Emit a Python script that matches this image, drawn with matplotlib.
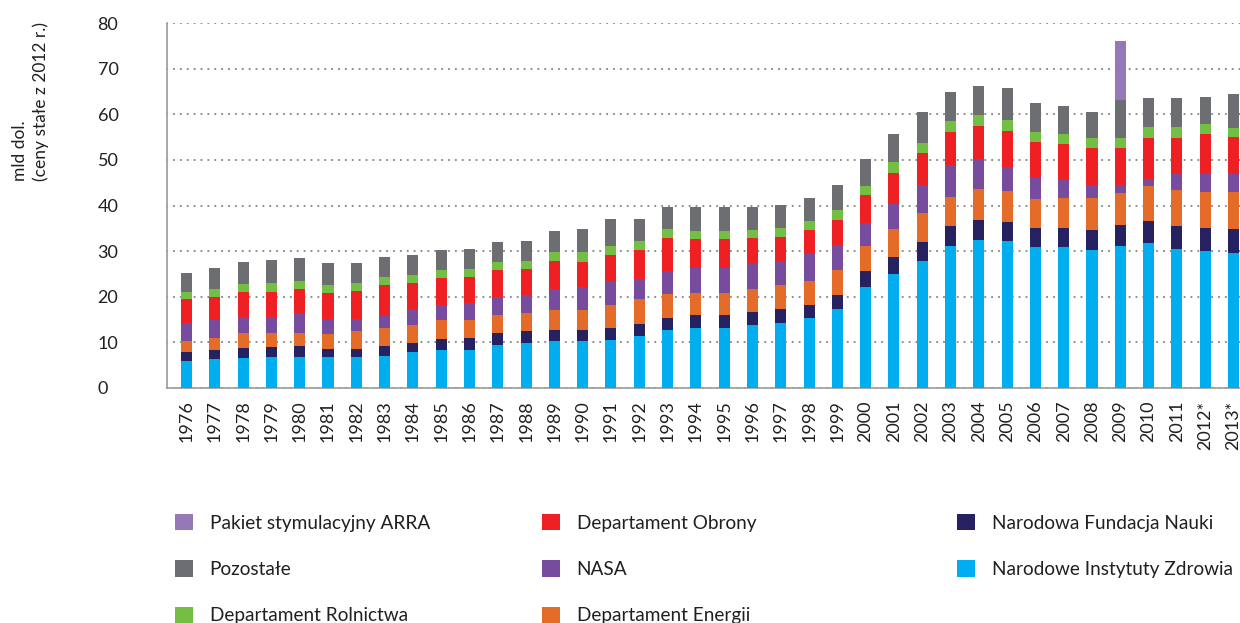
import matplotlib
matplotlib.use("Agg")
import matplotlib.pyplot as plt
from matplotlib.patches import Patch
import numpy as np

plt.rcParams['font.family'] = ['Lato', 'DejaVu Sans']

years = ['1976', '1977', '1978', '1979', '1980', '1981', '1982', '1983', '1984', '1985',
         '1986', '1987', '1988', '1989', '1990', '1991', '1992', '1993', '1994', '1995',
         '1996', '1997', '1998', '1999', '2000', '2001', '2002', '2003', '2004', '2005',
         '2006', '2007', '2008', '2009', '2010', '2011', '2012*', '2013*']

nih = [6.0, 6.3, 6.5, 6.9, 6.9, 6.7, 6.7, 7.1, 7.8, 8.4,
       8.4, 9.5, 9.9, 10.2, 10.2, 10.6, 11.3, 12.8, 13.2, 13.2,
       13.9, 14.3, 15.4, 17.4, 22.2, 25.05, 27.9, 31.2, 32.5, 32.3,
       30.9, 30.9, 30.3, 31.2, 31.8, 30.5, 30.1, 29.6]
nsf = [1.8, 2.0, 2.2, 2.0, 2.2, 1.9, 1.9, 2.0, 2.1, 2.4,
       2.65, 2.6, 2.7, 2.6, 2.6, 2.6, 2.8, 2.6, 2.9, 2.9,
       2.8, 3.1, 2.9, 3.0, 3.5, 3.75, 4.2, 4.4, 4.4, 4.1,
       4.2, 4.2, 4.4, 4.6, 4.8, 5.1, 5.0, 5.3]
energy = [2.6, 2.75, 3.3, 3.1, 3.0, 3.3, 3.8, 4.1, 4.0, 4.2,
          3.75, 4.0, 3.9, 4.4, 4.4, 5.1, 5.3, 5.3, 4.8, 4.8,
          4.9, 5.2, 5.2, 5.5, 5.5, 6.1, 6.3, 6.3, 6.8, 6.8,
          6.4, 6.6, 7.0, 7.0, 7.7, 7.8, 7.9, 8.1]
nasa = [3.9, 3.75, 3.6, 3.6, 4.3, 3.2, 2.8, 2.9, 3.35, 3.1,
        3.8, 3.9, 3.9, 4.6, 4.9, 5.2, 4.6, 5.0, 5.5, 5.5,
        5.7, 5.3, 6.0, 5.5, 4.9, 5.5, 6.0, 6.9, 6.4, 5.3,
        4.6, 4.0, 2.8, 1.7, 1.5, 3.6, 4.0, 4.0]
defense = [5.1, 5.2, 5.4, 5.5, 5.4, 5.8, 6.1, 6.5, 5.85, 6.1,
           5.8, 5.9, 5.7, 6.1, 5.6, 5.7, 6.3, 7.2, 6.2, 6.2,
           5.6, 5.3, 5.2, 5.5, 6.2, 6.8, 7.1, 7.3, 7.3, 7.8,
           7.8, 7.8, 8.1, 8.1, 9.0, 7.8, 8.7, 8.0]
agriculture = [1.7, 1.6, 1.9, 2.0, 1.7, 1.7, 1.8, 1.8, 1.7, 1.7,
               1.7, 1.8, 1.8, 1.8, 2.0, 2.0, 2.0, 2.0, 1.9, 1.9,
               1.8, 1.9, 1.9, 2.1, 2.0, 2.4, 2.2, 2.4, 2.4, 2.5,
               2.2, 2.2, 2.2, 2.2, 2.4, 2.4, 2.2, 2.0]
other = [4.2, 4.6, 4.8, 5.0, 5.1, 4.9, 4.4, 4.4, 4.4, 4.4,
         4.4, 4.3, 4.4, 4.8, 5.2, 5.9, 4.8, 4.8, 5.2, 5.2,
         5.0, 5.1, 5.1, 5.5, 5.9, 6.1, 6.8, 6.4, 6.4, 6.9,
         6.4, 6.1, 5.7, 8.3, 6.3, 6.3, 5.9, 7.4]
arra = [0, 0, 0, 0, 0, 0, 0, 0, 0, 0,
        0, 0, 0, 0, 0, 0, 0, 0, 0, 0,
        0, 0, 0, 0, 0, 0, 0, 0, 0, 0,
        0, 0, 0, 12.9, 0, 0, 0, 0]

series_labels = ['Narodowe Instytuty Zdrowia', 'Narodowa Fundacja Nauki', 'Departament Energii',
                 'NASA', 'Departament Obrony', 'Departament Rolnictwa', 'Pozostałe',
                 'Pakiet stymulacyjny ARRA']
series_values = [nih, nsf, energy, nasa, defense, agriculture, other, arra]
colors = ['#00AEEF', '#262262', '#E46C28', '#774C9E', '#EE2024', '#72BF44', '#6D6E71', '#9678B6']

TXT = '#231F20'

fig = plt.figure(figsize=(12.4, 6.23), dpi=100)
ax = fig.add_axes([167/1240, 1-388/623, 1-167/1240, (388-23)/623])

x = np.arange(len(years))
bottom = np.zeros(len(years))
for vals, col in zip(series_values, colors):
    v = np.array(vals, dtype=float)
    ax.bar(x, v, bottom=bottom, width=0.39, color=col, linewidth=0, zorder=3)
    bottom += v

ax.set_xlim(-0.69, 37.23)
ax.set_ylim(0, 80)
ax.set_yticks(np.arange(0, 81, 10))
ax.set_xticks(x)
ax.set_xticklabels(years, rotation=90, fontsize=13, color=TXT, va='top', ha='center')
ax.tick_params(axis='x', length=0, pad=9)
ax.tick_params(axis='y', length=0, pad=50, labelsize=13, labelcolor=TXT)
for lab in ax.get_yticklabels():
    lab.set_horizontalalignment('left')

ax.yaxis.grid(True, color='#8A8A8A', linewidth=1.5, linestyle=(0, (0.1, 3.2)),
              dash_capstyle='round', zorder=0)
ax.set_axisbelow(True)
for s in ['top', 'right']:
    ax.spines[s].set_visible(False)
for s in ['left', 'bottom']:
    ax.spines[s].set_color('#9A9A9A')
    ax.spines[s].set_linewidth(1.2)

fig.text(12/1240, 1-181/623, 'mld dol.\n(ceny stałe z 2012 r.)', rotation=90,
         ha='left', va='bottom', multialignment='left', fontsize=12.5, color=TXT,
         linespacing=1.3)

# legend in three columns
cols_order = [[7, 6, 5], [4, 3, 2], [1, 0]]
col_x = [175, 542, 957]
for idxs, cx in zip(cols_order, col_x):
    handles = [Patch(facecolor=colors[i], edgecolor='none') for i in idxs]
    labels = [series_labels[i] for i in idxs]
    fig.legend(handles, labels, loc='upper left', bbox_to_anchor=(cx/1240, 1-514/623),
               frameon=False, fontsize=13.7, handlelength=0.95, handleheight=0.95,
               handletextpad=0.87, labelspacing=1.5, borderpad=0, borderaxespad=0,
               labelcolor=TXT)

fig.savefig('out.png', dpi=100)
